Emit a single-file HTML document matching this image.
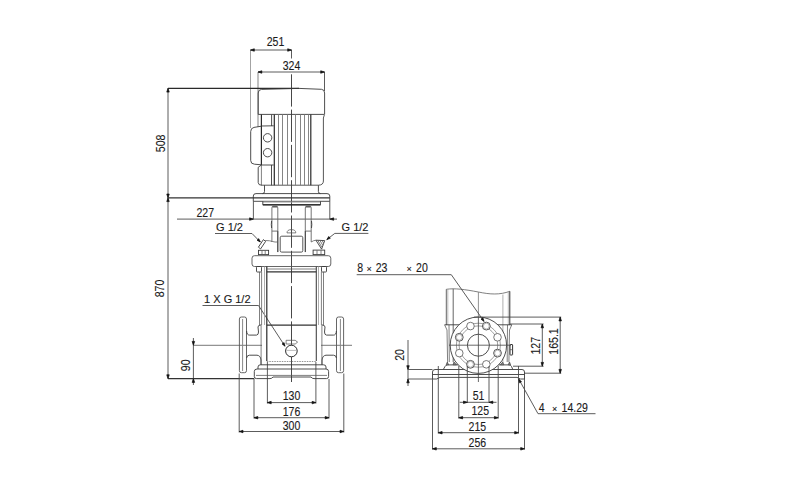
<!DOCTYPE html>
<html><head><meta charset="utf-8"><style>
html,body{margin:0;padding:0;background:#fff;}
svg{display:block;}
text{font-family:"Liberation Sans",sans-serif;fill:#1a1a1a;stroke:#1a1a1a;stroke-width:0.12px;}
</style></head><body>
<svg width="800" height="492" viewBox="0 0 800 492">
<line x1="291.5" y1="50" x2="291.5" y2="58.5" stroke="#4a4a4a" stroke-width="0.9" fill="none"/>
<line x1="291.5" y1="74.3" x2="291.5" y2="382" stroke="#333" stroke-width="0.9" stroke-dasharray="32.3 3"/>
<line x1="193" y1="345.3" x2="262" y2="345.3" stroke="#555" stroke-width="0.8"/>
<line x1="321" y1="345.3" x2="352" y2="345.3" stroke="#555" stroke-width="0.8"/>
<line x1="250.5" y1="50" x2="250.5" y2="128" stroke="#999" stroke-width="0.9"/>
<line x1="250.5" y1="50" x2="291.5" y2="50" stroke="#4a4a4a" stroke-width="0.9" fill="none"/>
<path d="M250.50,50.00 L254.30,48.75 L254.30,51.25 Z" fill="#111" stroke="#111" stroke-width="0.7" stroke-linejoin="round"/>
<path d="M291.50,50.00 L287.70,51.25 L287.70,48.75 Z" fill="#111" stroke="#111" stroke-width="0.7" stroke-linejoin="round"/>
<text x="0" y="0" font-size="12.4" text-anchor="middle" transform="translate(275.5 46) scale(0.85 1)">251</text>
<line x1="258" y1="72" x2="258" y2="127" stroke="#777" stroke-width="0.9"/>
<line x1="324.5" y1="72" x2="324.5" y2="91" stroke="#4a4a4a" stroke-width="0.9" fill="none"/>
<line x1="258" y1="72" x2="324.5" y2="72" stroke="#4a4a4a" stroke-width="0.9" fill="none"/>
<path d="M258.00,72.00 L261.80,70.75 L261.80,73.25 Z" fill="#111" stroke="#111" stroke-width="0.7" stroke-linejoin="round"/>
<path d="M324.50,72.00 L320.70,73.25 L320.70,70.75 Z" fill="#111" stroke="#111" stroke-width="0.7" stroke-linejoin="round"/>
<text x="0" y="0" font-size="12.4" text-anchor="middle" transform="translate(291.5 69.6) scale(0.85 1)">324</text>
<line x1="168" y1="88.3" x2="299" y2="88.3" stroke="#2a2a2a" stroke-width="1.2"/>
<line x1="168" y1="378.7" x2="254.3" y2="378.7" stroke="#333" stroke-width="1.2"/>
<line x1="168" y1="88.3" x2="168" y2="197.8" stroke="#4a4a4a" stroke-width="0.9" fill="none"/>
<path d="M168.00,88.30 L169.25,92.10 L166.75,92.10 Z" fill="#111" stroke="#111" stroke-width="0.7" stroke-linejoin="round"/>
<path d="M168.00,197.80 L166.75,194.00 L169.25,194.00 Z" fill="#111" stroke="#111" stroke-width="0.7" stroke-linejoin="round"/>
<text x="0" y="0" font-size="12.4" text-anchor="middle" transform="translate(164.5 143.4) rotate(-90) scale(0.85 1)">508</text>
<line x1="168" y1="197.8" x2="168" y2="378.6" stroke="#4a4a4a" stroke-width="0.9" fill="none"/>
<path d="M168.00,197.80 L169.25,201.60 L166.75,201.60 Z" fill="#111" stroke="#111" stroke-width="0.7" stroke-linejoin="round"/>
<path d="M168.00,378.60 L166.75,374.80 L169.25,374.80 Z" fill="#111" stroke="#111" stroke-width="0.7" stroke-linejoin="round"/>
<text x="0" y="0" font-size="12.4" text-anchor="middle" transform="translate(164.4 288.5) rotate(-90) scale(0.85 1)">870</text>
<line x1="177" y1="219.1" x2="337" y2="219.1" stroke="#4a4a4a" stroke-width="0.9" fill="none"/>
<path d="M253.40,219.10 L249.60,220.35 L249.60,217.85 Z" fill="#111" stroke="#111" stroke-width="0.7" stroke-linejoin="round"/>
<path d="M329.80,219.10 L333.60,217.85 L333.60,220.35 Z" fill="#111" stroke="#111" stroke-width="0.7" stroke-linejoin="round"/>
<line x1="253.4" y1="201.3" x2="253.4" y2="219.1" stroke="#4a4a4a" stroke-width="0.9" fill="none"/>
<line x1="329.8" y1="201.3" x2="329.8" y2="219.1" stroke="#4a4a4a" stroke-width="0.9" fill="none"/>
<text x="0" y="0" font-size="12.4" text-anchor="middle" transform="translate(205.3 216.5) scale(0.85 1)">227</text>
<text x="0" y="0" font-size="11" text-anchor="middle" transform="translate(229.5 231.2)">G 1/2</text>
<path d="M215,233.5 L252,233.5 L260.3,242" stroke="#4a4a4a" stroke-width="0.9" fill="none"/>
<path d="M260.30,242.00 L257.02,240.29 L258.76,238.64 Z" fill="#111" stroke="#111" stroke-width="0.7" stroke-linejoin="round"/>
<text x="0" y="0" font-size="11" text-anchor="middle" transform="translate(355 231.1)">G 1/2</text>
<path d="M368.4,233.4 L334.8,233.4 L326.8,239.6" stroke="#4a4a4a" stroke-width="0.9" fill="none"/>
<path d="M326.80,239.60 L328.78,236.48 L330.28,238.35 Z" fill="#111" stroke="#111" stroke-width="0.7" stroke-linejoin="round"/>
<text x="0" y="0" font-size="11" text-anchor="middle" transform="translate(227.3 302.8)">1 X G 1/2</text>
<path d="M202.5,305.5 L258.5,305.5 L285,346.2" stroke="#4a4a4a" stroke-width="0.9" fill="none"/>
<path d="M285.00,346.20 L282.07,343.94 L284.07,342.62 Z" fill="#111" stroke="#111" stroke-width="0.7" stroke-linejoin="round"/>
<line x1="193.4" y1="338" x2="193.4" y2="385" stroke="#4a4a4a" stroke-width="0.9" fill="none"/>
<path d="M193.40,345.20 L192.15,341.40 L194.65,341.40 Z" fill="#111" stroke="#111" stroke-width="0.7" stroke-linejoin="round"/>
<path d="M193.40,378.60 L194.65,382.40 L192.15,382.40 Z" fill="#111" stroke="#111" stroke-width="0.7" stroke-linejoin="round"/>
<text x="0" y="0" font-size="12.4" text-anchor="middle" transform="translate(190 365.3) rotate(-90) scale(0.85 1)">90</text>
<line x1="267.4" y1="362" x2="267.4" y2="403.5" stroke="#4a4a4a" stroke-width="0.9" fill="none"/>
<line x1="315.9" y1="362" x2="315.9" y2="403.5" stroke="#4a4a4a" stroke-width="0.9" fill="none"/>
<line x1="267.4" y1="402.6" x2="315.9" y2="402.6" stroke="#4a4a4a" stroke-width="0.9" fill="none"/>
<path d="M267.40,402.60 L271.20,401.35 L271.20,403.85 Z" fill="#111" stroke="#111" stroke-width="0.7" stroke-linejoin="round"/>
<path d="M315.90,402.60 L312.10,403.85 L312.10,401.35 Z" fill="#111" stroke="#111" stroke-width="0.7" stroke-linejoin="round"/>
<text x="0" y="0" font-size="12.4" text-anchor="middle" transform="translate(291.5 399.5) scale(0.85 1)">130</text>
<line x1="254" y1="379" x2="254" y2="418.5" stroke="#4a4a4a" stroke-width="0.9" fill="none"/>
<line x1="329" y1="379" x2="329" y2="418.5" stroke="#4a4a4a" stroke-width="0.9" fill="none"/>
<line x1="254" y1="417.7" x2="329" y2="417.7" stroke="#4a4a4a" stroke-width="0.9" fill="none"/>
<path d="M254.00,417.70 L257.80,416.45 L257.80,418.95 Z" fill="#111" stroke="#111" stroke-width="0.7" stroke-linejoin="round"/>
<path d="M329.00,417.70 L325.20,418.95 L325.20,416.45 Z" fill="#111" stroke="#111" stroke-width="0.7" stroke-linejoin="round"/>
<text x="0" y="0" font-size="12.4" text-anchor="middle" transform="translate(291.5 415.8) scale(0.85 1)">176</text>
<line x1="239.2" y1="373.5" x2="239.2" y2="432.5" stroke="#4a4a4a" stroke-width="0.9" fill="none"/>
<line x1="343.8" y1="373.5" x2="343.8" y2="432.5" stroke="#4a4a4a" stroke-width="0.9" fill="none"/>
<line x1="239.2" y1="431.5" x2="343.8" y2="431.5" stroke="#4a4a4a" stroke-width="0.9" fill="none"/>
<path d="M239.20,431.50 L243.00,430.25 L243.00,432.75 Z" fill="#111" stroke="#111" stroke-width="0.7" stroke-linejoin="round"/>
<path d="M343.80,431.50 L340.00,432.75 L340.00,430.25 Z" fill="#111" stroke="#111" stroke-width="0.7" stroke-linejoin="round"/>
<text x="0" y="0" font-size="12.4" text-anchor="middle" transform="translate(291.5 429.6) scale(0.85 1)">300</text>
<path d="M258.2,114.4 L258.2,93 Q258.2,89.6 261.5,89.4 L299,88.4 L321.5,89.3 Q324.6,89.6 324.6,93 L324.6,114.4 Z" stroke="#3a3a3a" stroke-width="0.9" fill="none"/>
<path d="M324.3,115 L323.4,118 L323.4,181 Q323.4,185 318.5,185.2 L262,185.2" stroke="#444" stroke-width="0.9" fill="none"/>
<line x1="261.4" y1="114.4" x2="261.4" y2="165" stroke="#2a2a2a" stroke-width="1.2"/>
<line x1="274.3" y1="114.4" x2="274.3" y2="185.2" stroke="#2a2a2a" stroke-width="1.2"/>
<line x1="278.5" y1="114.4" x2="278.5" y2="185.2" stroke="#777" stroke-width="0.9"/>
<line x1="282.5" y1="114.4" x2="282.5" y2="185.2" stroke="#777" stroke-width="0.9"/>
<line x1="287.5" y1="114.4" x2="287.5" y2="185.2" stroke="#777" stroke-width="0.9"/>
<line x1="295.5" y1="114.4" x2="295.5" y2="185.2" stroke="#777" stroke-width="0.9"/>
<line x1="300.5" y1="114.4" x2="300.5" y2="185.2" stroke="#777" stroke-width="0.9"/>
<line x1="304.5" y1="114.4" x2="304.5" y2="185.2" stroke="#777" stroke-width="0.9"/>
<line x1="308.5" y1="114.4" x2="308.5" y2="185.2" stroke="#777" stroke-width="0.9"/>
<line x1="310.8" y1="114.4" x2="310.8" y2="185.2" stroke="#2a2a2a" stroke-width="1.2"/>
<line x1="261.4" y1="165" x2="261.4" y2="185.2" stroke="#555" stroke-width="0.75" fill="none"/>
<line x1="271.6" y1="114.7" x2="271.6" y2="126" stroke="#3a3a3a" stroke-width="0.9" fill="none"/>
<line x1="271.5" y1="165" x2="271.5" y2="185.3" stroke="#3a3a3a" stroke-width="0.9" fill="none"/>
<path d="M261.4,126.2 L254,127.4 Q250.7,128 250.7,131.5 L250.7,160.5 Q250.7,164 254.5,164.2 L261.4,164.8" stroke="#3a3a3a" stroke-width="0.9" fill="none"/>
<path d="M261.5,126 L273.7,125.8 M261.5,165 L273.7,165" stroke="#3a3a3a" stroke-width="0.9" fill="none"/>
<circle cx="267.6" cy="137.8" r="4.2" stroke="#3a3a3a" stroke-width="0.9" fill="none"/>
<circle cx="267.6" cy="152.7" r="4.2" stroke="#3a3a3a" stroke-width="0.9" fill="none"/>
<path d="M261.4,165 L258.2,167.3 L258.2,182.5 Q258.2,185.3 262,185.3" stroke="#3a3a3a" stroke-width="0.9" fill="none"/>
<path d="M264.5,185.2 L264.5,191.5 Q264.5,193.6 262.5,193.6 M318.4,185.2 L318.4,191.5 Q318.4,193.6 320.5,193.6" stroke="#3a3a3a" stroke-width="0.9" fill="none"/>
<path d="M253.3,201.3 L253.3,196 Q253.3,193.6 256,193.6 L327,193.6 Q329.8,193.6 329.8,196 L329.8,201.3 Z" stroke="#3a3a3a" stroke-width="0.9" fill="none"/>
<line x1="168" y1="197.8" x2="329.8" y2="197.8" stroke="#333" stroke-width="1.3"/>
<line x1="262.8" y1="202" x2="320.5" y2="202" stroke="#999" stroke-width="1"/>
<path d="M262.8,201.3 L262.8,204.7 L320.5,204.7 L320.5,201.3" stroke="#3a3a3a" stroke-width="0.9" fill="none"/>
<line x1="262.8" y1="204.8" x2="320.5" y2="204.8" stroke="#222" stroke-width="1.3"/>
<path d="M271.9,242 L271.9,208 Q271.9,206 273.5,206 L276.3,206 Q277.8,206 277.8,208 L277.8,252" stroke="#666" stroke-width="0.9" fill="none"/>
<line x1="272.5" y1="206.8" x2="277.2" y2="206.8" stroke="#555" stroke-width="1.4"/>
<line x1="271.9" y1="231.1" x2="277.8" y2="231.1" stroke="#666" stroke-width="0.9" fill="none"/>
<path d="M271.6,221 Q271,224.5 271.6,228" stroke="#3a3a3a" stroke-width="0.9" fill="none"/>
<path d="M305.3,252 L305.3,208 Q305.3,206 306.9,206 L309.7,206 Q311.2,206 311.2,208 L311.2,242" stroke="#666" stroke-width="0.9" fill="none"/>
<line x1="305.9" y1="206.8" x2="310.6" y2="206.8" stroke="#555" stroke-width="1.4"/>
<line x1="305.3" y1="231.1" x2="311.2" y2="231.1" stroke="#666" stroke-width="0.9" fill="none"/>
<path d="M311.5,221 Q312.1,224.5 311.5,228" stroke="#3a3a3a" stroke-width="0.9" fill="none"/>
<line x1="277.8" y1="231.1" x2="277.8" y2="252.1" stroke="#3a3a3a" stroke-width="0.9" fill="none"/>
<line x1="305.3" y1="231.1" x2="305.3" y2="252.1" stroke="#3a3a3a" stroke-width="0.9" fill="none"/>
<rect x="280.2" y="236.2" width="22.6" height="15.9" rx="1.5" stroke="#444" stroke-width="0.9" fill="none"/>
<path d="M287,232.9 A4.3,3.2 0 0 1 295.8,232.9 Z" stroke="#555" stroke-width="0.75" fill="none"/>
<path d="M258.4,247.2 L260.6,248.9 L265.6,241.4 L263.4,239.6 Z" stroke="#3a3a3a" stroke-width="0.9" fill="none"/>
<path d="M265.2,240.5 Q270,240.5 272.5,241.5 Q275,242.3 277.8,242" stroke="#555" stroke-width="0.75" fill="none"/>
<path d="M315.9,240.2 L324.7,240.6 L321.6,249.1 Z" stroke="#3a3a3a" stroke-width="0.9" fill="none"/>
<path d="M317.8,240.3 L321.8,247.2 M319.9,240.4 L322.8,245.3 M322,240.5 L323.6,243" stroke="#555" stroke-width="0.75" fill="none"/>
<path d="M311.2,242 Q313.5,240.4 315.9,240.2" stroke="#555" stroke-width="0.75" fill="none"/>
<rect x="258.5" y="250.3" width="10.1" height="4.3" rx="0" stroke="#3a3a3a" stroke-width="0.9" fill="none"/>
<line x1="262" y1="250.5" x2="262" y2="254.4" stroke="#555" stroke-width="0.75" fill="none"/>
<line x1="265.2" y1="250.5" x2="265.2" y2="254.4" stroke="#555" stroke-width="0.75" fill="none"/>
<rect x="313.1" y="250.1" width="11.6" height="4.5" rx="0" stroke="#3a3a3a" stroke-width="0.9" fill="none"/>
<line x1="317" y1="250.3" x2="317" y2="254.4" stroke="#555" stroke-width="0.75" fill="none"/>
<line x1="321" y1="250.3" x2="321" y2="254.4" stroke="#555" stroke-width="0.75" fill="none"/>
<rect x="252" y="255.7" width="78.8" height="10.8" rx="2.5" stroke="#555" stroke-width="0.9" fill="none"/>
<rect x="256.5" y="266.5" width="5" height="5.5" rx="0.8" stroke="#3a3a3a" stroke-width="0.9" fill="none"/>
<rect x="321.5" y="266.5" width="5" height="5.5" rx="0.8" stroke="#3a3a3a" stroke-width="0.9" fill="none"/>
<line x1="259.5" y1="272" x2="259.5" y2="325" stroke="#555" stroke-width="0.75" fill="none"/>
<line x1="261.6" y1="272" x2="261.6" y2="325" stroke="#555" stroke-width="0.75" fill="none"/>
<line x1="321.4" y1="272" x2="321.4" y2="325" stroke="#555" stroke-width="0.75" fill="none"/>
<line x1="323.5" y1="272" x2="323.5" y2="325" stroke="#555" stroke-width="0.75" fill="none"/>
<line x1="264.5" y1="266.5" x2="264.5" y2="325" stroke="#999" stroke-width="0.8"/>
<line x1="318.5" y1="266.5" x2="318.5" y2="325" stroke="#999" stroke-width="0.8"/>
<line x1="266.8" y1="266.5" x2="266.8" y2="361" stroke="#2a2a2a" stroke-width="1.2"/>
<line x1="316.3" y1="266.5" x2="316.3" y2="361" stroke="#444" stroke-width="1.1"/>
<line x1="266.8" y1="269" x2="316.3" y2="269" stroke="#555" stroke-width="0.75" fill="none"/>
<line x1="266.8" y1="271.8" x2="316.3" y2="271.8" stroke="#333" stroke-width="1.2"/>
<line x1="266.8" y1="325.1" x2="316.3" y2="325.1" stroke="#333" stroke-width="1.2"/>
<line x1="266.8" y1="361.5" x2="316.3" y2="361.5" stroke="#777" stroke-width="0.8" stroke-dasharray="1.5 1"/>
<rect x="239.4" y="317" width="7.1" height="55.7" rx="2" stroke="#555" stroke-width="0.9" fill="none"/>
<line x1="242.6" y1="319" x2="242.6" y2="371" stroke="#888" stroke-width="1"/>
<rect x="336.5" y="317" width="7.1" height="55.7" rx="2" stroke="#555" stroke-width="0.9" fill="none"/>
<line x1="340.4" y1="319" x2="340.4" y2="371" stroke="#888" stroke-width="1"/>
<path d="M246.6,331 Q246.8,335.1 249.5,335.1 L256.5,335.1 Q258.5,335 258.5,332 L258,327 Q257.8,325.3 261.2,324.8" stroke="#3a3a3a" stroke-width="0.9" fill="none"/>
<path d="M246.6,358 Q246.8,355.2 249.5,355.2 L257,355.2 Q260.5,355.5 261,360 L261,364.8" stroke="#3a3a3a" stroke-width="0.9" fill="none"/>
<path d="M336.4,331 Q336.2,335.1 333.5,335.1 L326.5,335.1 Q324.5,335 324.5,332 L325,327 Q325.2,325.3 321.8,324.8" stroke="#3a3a3a" stroke-width="0.9" fill="none"/>
<path d="M336.4,358 Q336.2,355.2 333.5,355.2 L326,355.2 Q322.5,355.5 322,360 L322,364.8" stroke="#3a3a3a" stroke-width="0.9" fill="none"/>
<line x1="261.1" y1="325" x2="261.1" y2="364.8" stroke="#555" stroke-width="0.75" fill="none"/>
<line x1="321.9" y1="325" x2="321.9" y2="364.8" stroke="#555" stroke-width="0.75" fill="none"/>
<path d="M258,369 L258,367 Q258,364.8 260.5,364.8 L323.5,364.8 Q326,364.8 326,367 L326,369" stroke="#3a3a3a" stroke-width="0.9" fill="none"/>
<path d="M254.3,376.5 L254.3,371.5 Q254.3,369 257,369 L326,369 Q328.6,369 328.6,371.5 L328.6,376.5 Q328.6,378.6 326.5,378.6 L314,378.6 Q312,378.6 311,377 L273,377 Q272,378.6 270,378.6 L256.5,378.6 Q254.3,378.6 254.3,376.5 Z" stroke="#3a3a3a" stroke-width="0.9" fill="none"/>
<line x1="256" y1="375.4" x2="327" y2="375.4" stroke="#555" stroke-width="0.75" fill="none"/>
<circle cx="291.4" cy="351" r="5.8" stroke="#2a2a2a" stroke-width="1" fill="#fff"/>
<line x1="286.5" y1="350.4" x2="296.3" y2="350.4" stroke="#aaa" stroke-width="0.8"/>
<path d="M286.1,340.3 L295.2,340.3 L297.6,342.1 L295.2,344 L286.1,344 Z" stroke="#555" stroke-width="0.75" fill="none"/>
<path d="M446.3,289.3 C455,288 465,289.5 478.4,292 C490,294.5 500,295 509.8,291.3" stroke="#555" stroke-width="0.75" fill="none"/>
<line x1="446.3" y1="289.3" x2="446.3" y2="325" stroke="#555" stroke-width="0.9"/>
<line x1="447.8" y1="289.3" x2="447.8" y2="325" stroke="#aaa" stroke-width="0.8"/>
<line x1="453.2" y1="288.8" x2="453.2" y2="362" stroke="#555" stroke-width="0.9"/>
<line x1="502.9" y1="294.5" x2="502.9" y2="362" stroke="#999" stroke-width="0.8"/>
<line x1="508.3" y1="291.8" x2="508.3" y2="325" stroke="#aaa" stroke-width="0.8"/>
<line x1="509.8" y1="291.3" x2="509.8" y2="325" stroke="#333" stroke-width="1"/>
<path d="M444.6,324.8 L447,330 L447.6,362 M449,325 L449.3,362" stroke="#555" stroke-width="0.75" fill="none"/>
<path d="M511.8,324.8 L509.5,330 L508.9,362 M507.5,325 L507.2,362" stroke="#555" stroke-width="0.75" fill="none"/>
<line x1="444.6" y1="324.8" x2="511.8" y2="324.8" stroke="#3a3a3a" stroke-width="0.9" fill="none"/>
<path d="M443.3,369.5 L445,366.5 Q445.8,364.9 447.5,364.9 L509,364.9 Q510.8,364.9 511.5,366.5 L512.8,369.5" stroke="#3a3a3a" stroke-width="0.9" fill="none"/>
<path d="M447.3,362 L446.2,364.8 L448.6,364.8 Z M454,362 L453,364.8 L456.5,364.8 Z M509.5,362 L510.6,364.8 L508.2,364.8 Z M502.8,362 L503.8,364.8 L500.3,364.8 Z" stroke="#444" stroke-width="0.7" fill="#888"/>
<path d="M432.5,379 L432.5,372 Q432.5,369.5 435,369.5 L522,369.5 Q524.5,369.5 524.5,372 L524.5,379" stroke="#3a3a3a" stroke-width="0.9" fill="none"/>
<line x1="432.5" y1="374.5" x2="524.5" y2="374.5" stroke="#3a3a3a" stroke-width="0.9" fill="none"/>
<path d="M432.5,379 L436.5,379 L440,377.4 L517,377.4 L520.5,379 L524.5,379" stroke="#3a3a3a" stroke-width="0.9" fill="none"/>
<circle cx="478.4" cy="345.2" r="28.2" stroke="#3a3a3a" stroke-width="0.9" fill="#fff"/>
<circle cx="478.4" cy="345.2" r="11" stroke="#3a3a3a" stroke-width="0.9" fill="none"/>
<circle cx="478.4" cy="345.2" r="19.3" stroke="#777" stroke-width="0.7" fill="none"/>
<circle cx="478.4" cy="345.2" r="22" stroke="#777" stroke-width="0.7" fill="none"/>
<circle cx="497.52" cy="353.12" r="3.9" stroke="#444" stroke-width="0.9" fill="#fff"/>
<circle cx="497.52" cy="353.12" r="2.9" stroke="#999" stroke-width="0.7" fill="none"/>
<circle cx="486.32" cy="364.32" r="3.8" stroke="#555" stroke-width="0.8" fill="#fff"/>
<circle cx="470.48" cy="364.32" r="3.9" stroke="#444" stroke-width="0.9" fill="#fff"/>
<circle cx="470.48" cy="364.32" r="2.9" stroke="#999" stroke-width="0.7" fill="none"/>
<circle cx="459.28" cy="353.12" r="3.8" stroke="#555" stroke-width="0.8" fill="#fff"/>
<circle cx="459.28" cy="337.28" r="3.9" stroke="#444" stroke-width="0.9" fill="#fff"/>
<circle cx="459.28" cy="337.28" r="2.9" stroke="#999" stroke-width="0.7" fill="none"/>
<circle cx="470.48" cy="326.08" r="3.8" stroke="#555" stroke-width="0.8" fill="#fff"/>
<circle cx="486.32" cy="326.08" r="3.9" stroke="#444" stroke-width="0.9" fill="#fff"/>
<circle cx="486.32" cy="326.08" r="2.9" stroke="#999" stroke-width="0.7" fill="none"/>
<circle cx="497.52" cy="337.28" r="3.8" stroke="#555" stroke-width="0.8" fill="#fff"/>
<rect x="510" y="344.5" width="2.6" height="10.5" rx="0.5" stroke="#333" stroke-width="1" fill="#fff"/>
<line x1="510" y1="349.7" x2="512.6" y2="349.7" stroke="#555" stroke-width="0.75" fill="none"/>
<line x1="449" y1="345.2" x2="511" y2="345.2" stroke="#444" stroke-width="0.8"/>
<line x1="478.4" y1="292" x2="478.4" y2="317" stroke="#777" stroke-width="0.8"/>
<line x1="478.4" y1="317" x2="478.4" y2="382" stroke="#444" stroke-width="0.8"/>
<line x1="408" y1="340" x2="408" y2="386" stroke="#4a4a4a" stroke-width="0.9" fill="none"/>
<path d="M408.00,369.50 L406.75,365.70 L409.25,365.70 Z" fill="#111" stroke="#111" stroke-width="0.7" stroke-linejoin="round"/>
<path d="M408.00,379.00 L409.25,382.80 L406.75,382.80 Z" fill="#111" stroke="#111" stroke-width="0.7" stroke-linejoin="round"/>
<line x1="408" y1="369.5" x2="432.5" y2="369.5" stroke="#4a4a4a" stroke-width="0.9" fill="none"/>
<line x1="408" y1="379" x2="432.5" y2="379" stroke="#4a4a4a" stroke-width="0.9" fill="none"/>
<text x="0" y="0" font-size="12.4" text-anchor="middle" transform="translate(403.5 355) rotate(-90) scale(0.85 1)">20</text>
<line x1="474" y1="317.1" x2="561.2" y2="317.1" stroke="#4a4a4a" stroke-width="0.9" fill="none"/>
<line x1="510" y1="324" x2="543.6" y2="324" stroke="#4a4a4a" stroke-width="0.9" fill="none"/>
<line x1="513" y1="366.2" x2="543.6" y2="366.2" stroke="#4a4a4a" stroke-width="0.9" fill="none"/>
<line x1="524.5" y1="373.2" x2="561.2" y2="373.2" stroke="#4a4a4a" stroke-width="0.9" fill="none"/>
<line x1="542.3" y1="324" x2="542.3" y2="366.2" stroke="#4a4a4a" stroke-width="0.9" fill="none"/>
<path d="M542.30,324.00 L543.55,327.80 L541.05,327.80 Z" fill="#111" stroke="#111" stroke-width="0.7" stroke-linejoin="round"/>
<path d="M542.30,366.20 L541.05,362.40 L543.55,362.40 Z" fill="#111" stroke="#111" stroke-width="0.7" stroke-linejoin="round"/>
<text x="0" y="0" font-size="12.4" text-anchor="middle" transform="translate(539.7 345.8) rotate(-90) scale(0.85 1)">127</text>
<line x1="560.2" y1="317.1" x2="560.2" y2="373.2" stroke="#4a4a4a" stroke-width="0.9" fill="none"/>
<path d="M560.20,317.10 L561.45,320.90 L558.95,320.90 Z" fill="#111" stroke="#111" stroke-width="0.7" stroke-linejoin="round"/>
<path d="M560.20,373.20 L558.95,369.40 L561.45,369.40 Z" fill="#111" stroke="#111" stroke-width="0.7" stroke-linejoin="round"/>
<text x="0" y="0" font-size="12.4" text-anchor="middle" transform="translate(557.6 341.5) rotate(-90) scale(0.85 1)">165.1</text>
<line x1="467.3" y1="366" x2="467.3" y2="403" stroke="#4a4a4a" stroke-width="0.9" fill="none"/>
<line x1="489" y1="366" x2="489" y2="403" stroke="#4a4a4a" stroke-width="0.9" fill="none"/>
<line x1="458.8" y1="366" x2="458.8" y2="418.5" stroke="#4a4a4a" stroke-width="0.9" fill="none"/>
<line x1="498.2" y1="366" x2="498.2" y2="418.5" stroke="#4a4a4a" stroke-width="0.9" fill="none"/>
<line x1="438.3" y1="366" x2="438.3" y2="433.5" stroke="#4a4a4a" stroke-width="0.9" fill="none"/>
<line x1="518.5" y1="366" x2="518.5" y2="433.5" stroke="#4a4a4a" stroke-width="0.9" fill="none"/>
<line x1="432.5" y1="379" x2="432.5" y2="449.5" stroke="#4a4a4a" stroke-width="0.9" fill="none"/>
<line x1="524.5" y1="379" x2="524.5" y2="449.5" stroke="#4a4a4a" stroke-width="0.9" fill="none"/>
<line x1="459.7" y1="402.3" x2="496.5" y2="402.3" stroke="#4a4a4a" stroke-width="0.9" fill="none"/>
<path d="M467.30,402.30 L463.50,403.55 L463.50,401.05 Z" fill="#111" stroke="#111" stroke-width="0.7" stroke-linejoin="round"/>
<path d="M489.00,402.30 L492.80,401.05 L492.80,403.55 Z" fill="#111" stroke="#111" stroke-width="0.7" stroke-linejoin="round"/>
<text x="0" y="0" font-size="12.4" text-anchor="middle" transform="translate(478.6 399.7) scale(0.85 1)">51</text>
<line x1="458.8" y1="417.7" x2="498.2" y2="417.7" stroke="#4a4a4a" stroke-width="0.9" fill="none"/>
<path d="M458.80,417.70 L462.60,416.45 L462.60,418.95 Z" fill="#111" stroke="#111" stroke-width="0.7" stroke-linejoin="round"/>
<path d="M498.20,417.70 L494.40,418.95 L494.40,416.45 Z" fill="#111" stroke="#111" stroke-width="0.7" stroke-linejoin="round"/>
<text x="0" y="0" font-size="12.4" text-anchor="middle" transform="translate(480.2 414.7) scale(0.85 1)">125</text>
<line x1="438.3" y1="432.7" x2="518.5" y2="432.7" stroke="#4a4a4a" stroke-width="0.9" fill="none"/>
<path d="M438.30,432.70 L442.10,431.45 L442.10,433.95 Z" fill="#111" stroke="#111" stroke-width="0.7" stroke-linejoin="round"/>
<path d="M518.50,432.70 L514.70,433.95 L514.70,431.45 Z" fill="#111" stroke="#111" stroke-width="0.7" stroke-linejoin="round"/>
<text x="0" y="0" font-size="12.4" text-anchor="middle" transform="translate(477.4 430.5) scale(0.85 1)">215</text>
<line x1="432.5" y1="448.8" x2="524.5" y2="448.8" stroke="#4a4a4a" stroke-width="0.9" fill="none"/>
<path d="M432.50,448.80 L436.30,447.55 L436.30,450.05 Z" fill="#111" stroke="#111" stroke-width="0.7" stroke-linejoin="round"/>
<path d="M524.50,448.80 L520.70,450.05 L520.70,447.55 Z" fill="#111" stroke="#111" stroke-width="0.7" stroke-linejoin="round"/>
<text x="0" y="0" font-size="12.4" text-anchor="middle" transform="translate(477.4 446.7) scale(0.85 1)">256</text>
<text x="0" y="0" font-size="12.4" text-anchor="middle" transform="translate(360.3 272.1) scale(0.85 1)">8</text>
<text x="0" y="0" font-size="9" text-anchor="middle" transform="translate(369 272.1)">×</text>
<text x="0" y="0" font-size="12.4" text-anchor="middle" transform="translate(381.6 272.1) scale(0.85 1)">23</text>
<text x="0" y="0" font-size="9" text-anchor="middle" transform="translate(409.2 272.1)">×</text>
<text x="0" y="0" font-size="12.4" text-anchor="middle" transform="translate(421.9 272.1) scale(0.85 1)">20</text>
<path d="M356.7,274.7 L451.3,274.7 L484,321.4" stroke="#4a4a4a" stroke-width="0.9" fill="none"/>
<path d="M484.00,321.40 L481.01,319.22 L482.98,317.84 Z" fill="#111" stroke="#111" stroke-width="0.7" stroke-linejoin="round"/>
<text x="0" y="0" font-size="12.4" text-anchor="middle" transform="translate(541.7 412) scale(0.85 1)">4</text>
<text x="0" y="0" font-size="9" text-anchor="middle" transform="translate(554.5 412)">×</text>
<text x="0" y="0" font-size="12.4" text-anchor="middle" transform="translate(574.7 412) scale(0.85 1)">14.29</text>
<path d="M595.5,413.7 L538,413.7 L518.8,379.2" stroke="#4a4a4a" stroke-width="0.9" fill="none"/>
<path d="M518.80,379.20 L521.54,381.69 L519.44,382.85 Z" fill="#111" stroke="#111" stroke-width="0.7" stroke-linejoin="round"/>
</svg></body></html>
